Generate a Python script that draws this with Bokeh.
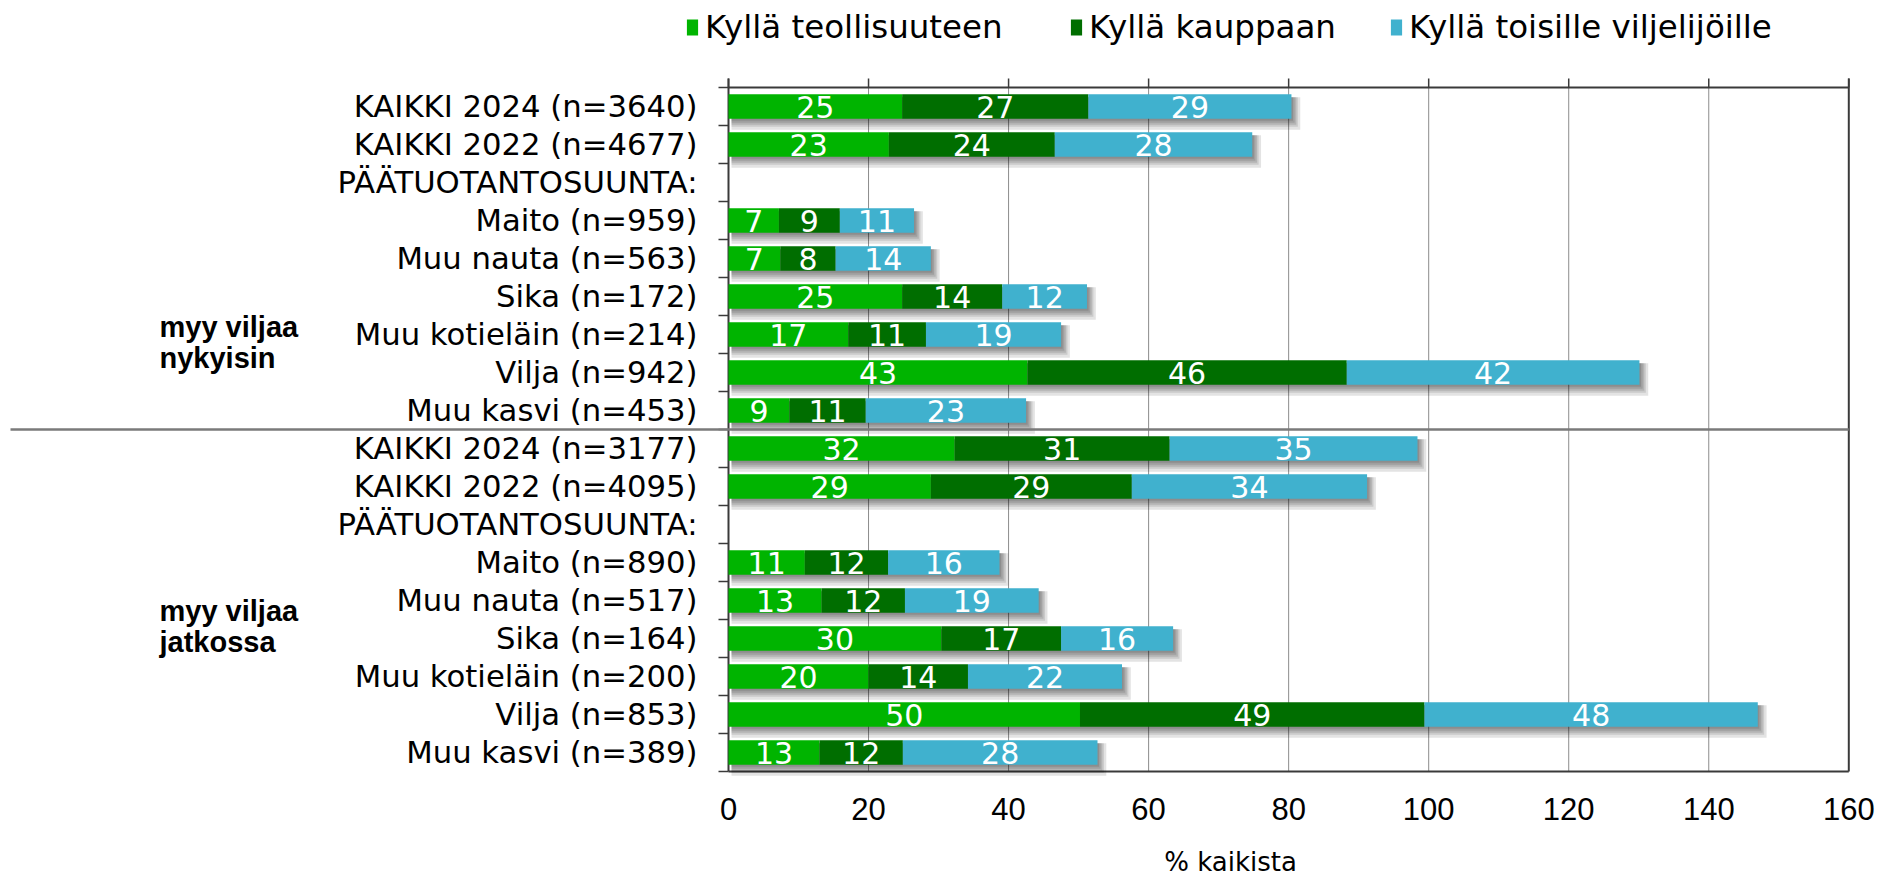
import math
from bokeh.plotting import figure
from bokeh.models import ColumnDataSource, Range1d, Legend, LegendItem
from bokeh.core.properties import value
from bokeh.embed import file_html
from bokeh.resources import INLINE

categories = ["KAIKKI 2024 (n=3640)", "KAIKKI 2022 (n=4677)", "PÄÄTUOTANTOSUUNTA:",
              "Maito (n=959)", "Muu nauta (n=563)", "Sika (n=172)", "Muu kotieläin (n=214)",
              "Vilja (n=942)", "Muu kasvi (n=453)",
              "KAIKKI 2024 (n=3177)", "KAIKKI 2022 (n=4095)", "PÄÄTUOTANTOSUUNTA:",
              "Maito (n=890)", "Muu nauta (n=517)", "Sika (n=164)", "Muu kotieläin (n=200)",
              "Vilja (n=853)", "Muu kasvi (n=389)"]
teollisuuteen = [24.8, 22.9, None, 7.2, 7.4, 24.8, 17.1, 42.7, 8.7,
                 32.3, 28.9, None, 10.9, 13.3, 30.4, 20.0, 50.2, 13.0]
kauppaan = [26.6, 23.7, None, 8.7, 7.9, 14.3, 11.1, 45.6, 10.9,
            30.7, 28.7, None, 11.9, 11.9, 17.1, 14.2, 49.2, 11.9]
toisille = [29.0, 28.2, None, 10.6, 13.6, 12.1, 19.3, 41.8, 22.9,
            35.4, 33.6, None, 15.9, 19.1, 16.0, 22.0, 47.6, 27.8]
series_names = ["Kyllä teollisuuteen", "Kyllä kauppaan", "Kyllä toisille viljelijöille"]
series_colors = ["#00B400", "#006E00", "#40B1CE"]
group_names = [["myy viljaa", "nykyisin"], ["myy viljaa", "jatkossa"]]
group_size = 9
x_ticks = [0, 20, 40, 60, 80, 100, 120, 140, 160]
x_title = "% kaikista"

# ---- layout constants (pixels) ----
W, H = 1877, 875
X0PX, X1PX = 728.0, 1848.3          # x=0 and x=160 in canvas pixels
Y0PX, Y1PX = 87.0, 771.0            # top and bottom of plot box
n = len(categories)
xmax = x_ticks[-1]
xpx = (X1PX - X0PX) / xmax          # pixels per unit
ypx = (Y1PX - Y0PX) / n             # pixels per row

x_range = Range1d(-X0PX / xpx, (W - X0PX) / xpx)
y_range = Range1d((H - Y0PX) / ypx, -Y0PX / ypx)   # flipped: row 0 at top

p = figure(width=W, height=H, x_range=x_range, y_range=y_range,
           output_backend="svg", toolbar_location=None,
           x_axis_location=None, y_axis_location=None, min_border=0)
p.outline_line_color = None
p.background_fill_color = "white"
p.border_fill_color = "white"
for g in p.grid:
    g.visible = False

centers = [i + 0.5 for i in range(n)]
rows = [i for i in range(n) if teollisuuteen[i] is not None]
dark = "#3a3a3a"
tick_up = 9 / ypx

# vertical grid lines
inner = x_ticks[1:-1]
p.segment(x0=inner, y0=[0] * len(inner), x1=inner, y1=[n] * len(inner),
          line_color="#8c8c8c", line_width=1)
# tick marks above the top edge
p.segment(x0=x_ticks, y0=[-tick_up] * len(x_ticks), x1=x_ticks, y1=[0] * len(x_ticks),
          line_color=dark, line_width=1.5)
# frame box
p.segment(x0=[0, 0, 0, xmax], y0=[0, n, -tick_up, -tick_up],
          x1=[xmax, xmax, 0, xmax], y1=[0, n, n, n],
          line_color=dark, line_width=2)
# row boundary ticks on the left axis
bounds = list(range(n + 1))
p.segment(x0=[-10 / xpx] * len(bounds), y0=bounds, x1=[0] * len(bounds), y1=bounds,
          line_color=dark, line_width=1.5)

# ---- bars ----
segs = [teollisuuteen, kauppaan, toisille]
lefts = [[0.0] * n for _ in range(3)]
for i in rows:
    acc = 0.0
    for s in range(3):
        lefts[s][i] = acc
        acc += segs[s][i]
totals = [sum(segs[s][i] for s in range(3)) for i in rows]
ys = [centers[i] for i in rows]
bh = 0.645

for k in [2, 4, 6, 8, 11]:
    sh = ColumnDataSource(dict(
        left=[3 / xpx] * len(rows),
        right=[t + k * 0.8 / xpx for t in totals],
        top=[y - bh / 2 + 3 / ypx for y in ys],
        bottom=[y + bh / 2 + k / ypx for y in ys]))
    p.quad(left="left", right="right", top="top", bottom="bottom", source=sh,
           fill_color="#000000", fill_alpha=0.11, line_color=None)

renderers = []
for s in range(3):
    src = ColumnDataSource(dict(
        y=ys,
        left=[lefts[s][i] for i in rows],
        right=[lefts[s][i] + segs[s][i] for i in rows],
        mid=[lefts[s][i] + segs[s][i] / 2 for i in rows],
        lab=["%d" % int(math.floor(segs[s][i] + 0.5)) for i in rows]))
    r = p.hbar(y="y", left="left", right="right", height=bh, source=src,
               fill_color=series_colors[s], line_color=None)
    renderers.append(r)
    p.text(x="mid", y="y", text="lab", source=src, text_color="white",
           text_font=value("DejaVu Sans"), text_font_size="30px",
           text_align="center", text_baseline="middle")

# divider between the two groups
p.segment(x0=[-(X0PX - 10) / xpx], y0=[group_size], x1=[xmax], y1=[group_size],
          line_color="#7a7a7a", line_width=2.5)

# ---- texts ----
cat_src = ColumnDataSource(dict(x=[-31 / xpx] * n, y=centers, text=categories))
p.text(x="x", y="y", text="text", source=cat_src, text_color="#000000",
       text_font=value("DejaVu Sans"), text_font_size="30.7px",
       text_align="right", text_baseline="middle")

xt_src = ColumnDataSource(dict(x=x_ticks, y=[n + 37 / ypx] * len(x_ticks),
                               text=[str(t) for t in x_ticks]))
p.text(x="x", y="y", text="text", source=xt_src, text_color="#000000",
       text_font=value("Liberation Sans"), text_font_size="31px",
       text_align="center", text_baseline="middle")

p.text(x=[(1230 - X0PX) / xpx], y=[(861 - Y0PX) / ypx], text=[x_title],
       text_color="#000000", text_font=value("DejaVu Sans"), text_font_size="26px",
       text_align="center", text_baseline="middle")

g_x = (159 - X0PX) / xpx
g_y = [[(326 - Y0PX) / ypx, (357 - Y0PX) / ypx], [(610 - Y0PX) / ypx, (641 - Y0PX) / ypx]]
for g in range(2):
    p.text(x=[g_x, g_x], y=g_y[g], text=group_names[g], text_color="#000000",
           text_font=value("Liberation Sans"), text_font_style="bold",
           text_font_size="29px", text_align="left", text_baseline="middle")

# ---- legend: one per item so each sits where the reference has it ----
leg_x = [685, 1069, 1389]
for s in range(3):
    lg = Legend(items=[LegendItem(label=series_names[s], renderers=[renderers[s]])],
                location=(leg_x[s], H - 46), orientation="horizontal",
                padding=0, margin=0, spacing=0, border_line_color=None,
                background_fill_alpha=0, glyph_width=14, glyph_height=20,
                label_standoff=6, label_height=20,
                label_text_font="DejaVu Sans", label_text_font_size="32.5px",
                label_text_color="#000000", label_text_baseline="middle")
    p.add_layout(lg)

open("out.html", "w").write(file_html(p, INLINE))
